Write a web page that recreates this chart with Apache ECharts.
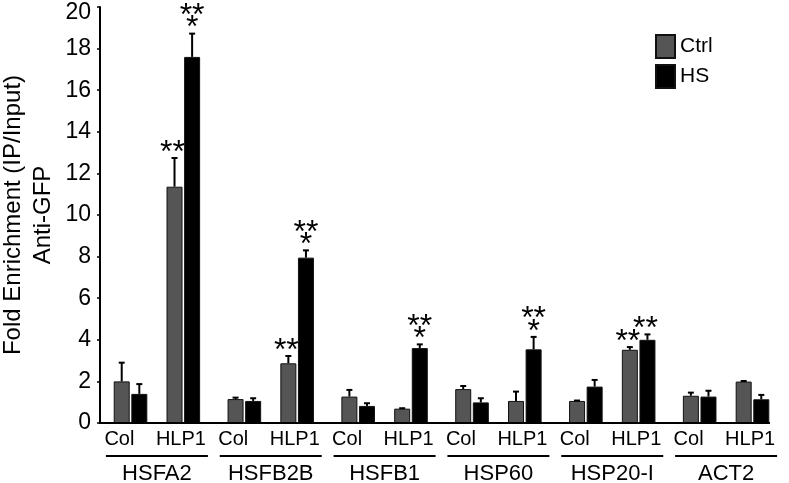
<!DOCTYPE html>
<html>
<head>
<meta charset="utf-8">
<script src="https://cdn.jsdelivr.net/npm/echarts@6/dist/echarts.min.js"></script>
<style>
  html, body { margin: 0; padding: 0; background: #fff; }
  #chart { width: 789px; height: 483px; }
</style>
</head>
<body>
<div id="chart"></div>
<script>
// ChIP enrichment chart, Col vs HLP1 per gene, Ctrl vs HS
var genes = ['HSFA2', 'HSFB2B', 'HSFB1', 'HSP60', 'HSP20-I', 'ACT2'];
var colCtrl = [2.0, 1.15, 1.27, 1.63, 1.06, 1.31];
var colCtrlErr = [0.9, 0.07, 0.32, 0.15, 0.02, 0.15];
var colHS = [1.4, 1.06, 0.82, 0.99, 1.75, 1.27];
var colHSErr = [0.47, 0.13, 0.13, 0.2, 0.32, 0.28];
var hlpCtrl = [11.36, 2.87, 0.69, 1.06, 3.52, 1.99];
var hlpCtrlErr = [1.38, 0.35, 0.02, 0.45, 0.13, 0.03];
var hlpHS = [17.6, 7.95, 3.6, 3.54, 4.0, 1.14];
var hlpHSErr = [1.12, 0.35, 0.18, 0.6, 0.26, 0.21];
var hlpCtrlSig = ['**', '**', '', '', '**', ''];
var hlpHSSig = ['***', '***', '***', '***', '**', ''];

(function() {
  var font = 'Liberation Sans, Arial, sans-serif';
  var gray = '#555555';
  var barW = 16;
  var gap = 1.6;
  var slot = barW + gap;

  var chart = echarts.init(document.getElementById('chart'));

  function errSeries(vals, errs, sigs, offset) {
    return {
      type: 'custom',
      silent: true,
      z: 5,
      data: vals.map(function(v, i) { return [i, v, errs[i]]; }),
      renderItem: function(params, api) {
        var i = api.value(0);
        var base = api.coord([i, api.value(1)]);
        var top = api.coord([i, api.value(1) + api.value(2)]);
        var x = base[0] + offset;
        var kids = [
          { type: 'line', shape: { x1: x, y1: base[1], x2: x, y2: top[1] }, style: { stroke: '#000', lineWidth: 2 } },
          { type: 'line', shape: { x1: x - 3, y1: top[1], x2: x + 3, y2: top[1] }, style: { stroke: '#000', lineWidth: 2 } }
        ];
        var s = sigs ? sigs[params.dataIndex] : '';
        var starY = top[1] - 5;
        var st = { font: '32px ' + font, fill: '#000', align: 'center', verticalAlign: 'middle' };
        if (s === '***') {
          kids.push({ type: 'text', x: x, y: starY, style: Object.assign({ text: '*' }, st) });
          kids.push({ type: 'text', x: x, y: starY - 12.5, style: Object.assign({ text: '**' }, st) });
        } else if (s === '**') {
          kids.push({ type: 'text', x: x - 2, y: starY, style: Object.assign({ text: '**' }, st) });
        }
        return { type: 'group', children: kids };
      }
    };
  }

  function barSeries(name, vals, color) {
    return {
      name: name,
      type: 'bar',
      barWidth: barW,
      barGap: '10%',
      data: vals,
      itemStyle: { color: color, borderColor: '#111', borderWidth: 1 }
    };
  }

  chart.setOption({
    animation: false,
    textStyle: { fontFamily: font },
    legend: {
      data: ['Ctrl', 'HS'],
      orient: 'vertical',
      left: 650,
      top: 29,
      itemWidth: 19,
      itemHeight: 23,
      itemGap: 5,
      icon: 'rect',
      textStyle: { fontSize: 21, color: '#000', fontFamily: font }
    },
    grid: { left: 100, right: 6, top: 7, bottom: 60, outerBoundsMode: 'none' },
    xAxis: {
      type: 'category',
      data: genes,
      axisLine: { show: false },
      axisTick: { show: false },
      axisLabel: {
        margin: 6,
        interval: 0,
        color: '#000',
        formatter: function(v) { return '{c|Col}{h|HLP1}\n{ln| }\n{g|' + v + '}'; },
        rich: {
          c: { width: 48, align: 'center', fontSize: 20, lineHeight: 20, fontFamily: font, color: '#000' },
          h: { width: 75, align: 'center', fontSize: 20, lineHeight: 20, fontFamily: font, color: '#000' },
          ln: { width: 102, height: 2, lineHeight: 14, backgroundColor: '#000', fontSize: 2 },
          g: { fontSize: 22, lineHeight: 22, fontFamily: font, color: '#000' }
        }
      }
    },
    yAxis: {
      type: 'value',
      min: 0,
      max: 20,
      interval: 2,
      name: 'Fold Enrichment (IP/Input)\nAnti-GFP',
      nameLocation: 'middle',
      nameRotate: 90,
      nameGap: 42,
      nameMoveOverlap: false,
      nameTextStyle: { fontSize: 24, lineHeight: 30, color: '#000', fontFamily: font },
      axisLine: { show: true, lineStyle: { color: '#000', width: 2 } },
      axisTick: { show: true, length: 3, lineStyle: { color: '#000', width: 1.5 } },
      axisLabel: {
        fontSize: 23,
        color: '#000',
        margin: 9,
        fontFamily: font,
        formatter: function(v) { return v === 20 ? '{t|20}' : String(v); },
        rich: { t: { fontSize: 23, fontFamily: font, color: '#000', padding: [12, 0, 0, 0] } }
      },
      splitLine: { show: false }
    },
    graphic: [{
      type: 'line',
      shape: { x1: 99, y1: 423, x2: 770, y2: 423 },
      style: { stroke: '#000', lineWidth: 2 },
      z: 10
    }],
    series: [
      barSeries('Ctrl', colCtrl, gray),
      barSeries('HS', colHS, '#000'),
      barSeries('spacer', genes.map(function() { return null; }), 'transparent'),
      barSeries('Ctrl', hlpCtrl, gray),
      barSeries('HS', hlpHS, '#000'),
      errSeries(colCtrl, colCtrlErr, null, -2 * slot),
      errSeries(colHS, colHSErr, null, -slot),
      errSeries(hlpCtrl, hlpCtrlErr, hlpCtrlSig, slot),
      errSeries(hlpHS, hlpHSErr, hlpHSSig, 2 * slot)
    ]
  });
  window.addEventListener('resize', function() { chart.resize(); });
})();
</script>
</body>
</html>
